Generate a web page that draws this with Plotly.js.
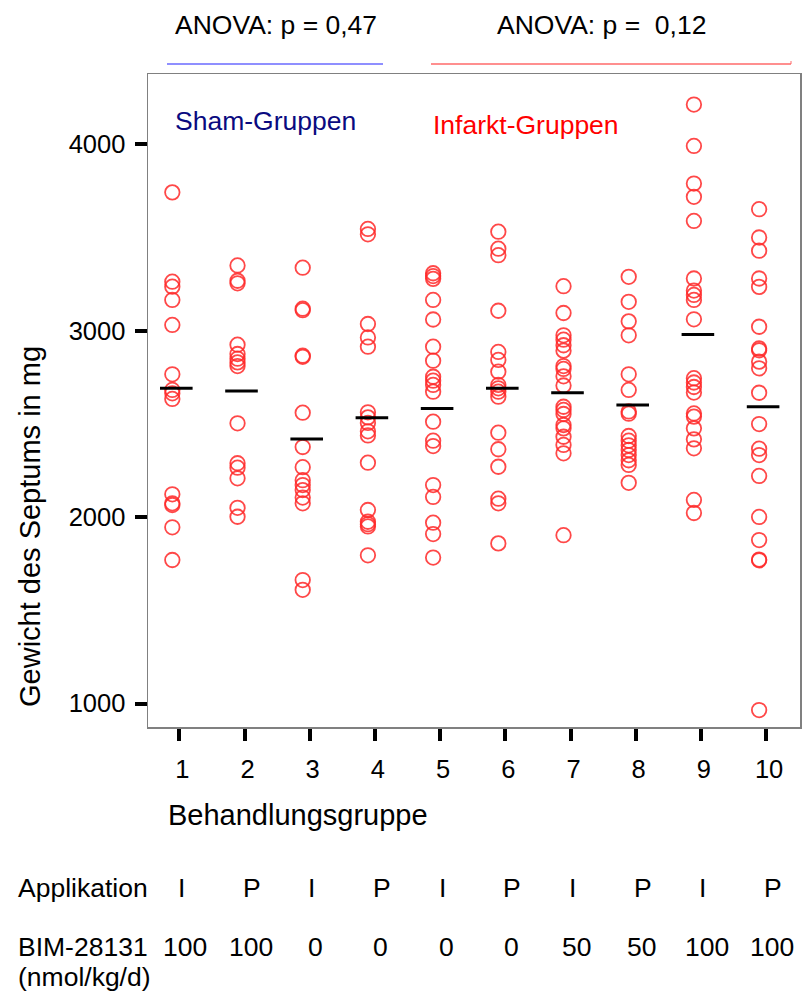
<!DOCTYPE html>
<html>
<head>
<meta charset="utf-8">
<script src="https://cdn.plot.ly/plotly-3.0.1.min.js"></script>
<style>
  html, body { margin: 0; padding: 0; background: #fff; }
  #chart { width: 802px; height: 992px; }
</style>
</head>
<body>
<div id="chart"></div>
<script>
// Treatment groups
const groups = [1, 2, 3, 4, 5, 6, 7, 8, 9, 10];

// Septum weight (mg) per animal
const g1 = [3742, 3263, 3236, 3165, 3031, 2766, 2682, 2664, 2634, 2122, 2074, 2065, 1945, 1770];
const g2 = [3350, 3268, 3254, 2925, 2875, 2850, 2830, 2810, 2503, 2289, 2265, 2208, 2050, 2002];
const g3 = [3338, 3118, 3110, 2866, 2860, 2560, 2376, 2268, 2198, 2172, 2145, 2105, 2074, 1662, 1610];
const g4 = [3546, 3517, 3036, 2964, 2914, 2562, 2535, 2505, 2460, 2438, 2292, 2038, 1975, 1962, 1950, 1795];
const g5 = [3308, 3293, 3278, 3165, 3060, 2914, 2839, 2753, 2732, 2709, 2673, 2512, 2410, 2381, 2172, 2108, 1970, 1909, 1783];
const g6 = [3531, 3440, 3405, 3107, 2886, 2843, 2780, 2709, 2691, 2673, 2646, 2453, 2364, 2270, 2099, 2074, 1859];
const g7 = [3239, 3095, 2975, 2952, 2922, 2893, 2810, 2795, 2755, 2706, 2592, 2575, 2553, 2494, 2476, 2431, 2387, 2342, 1903];
const g8 = [3289, 3155, 3050, 2975, 2766, 2682, 2567, 2555, 2435, 2410, 2385, 2360, 2333, 2305, 2280, 2184];
const g9 = [4213, 3991, 3789, 3718, 3589, 3280, 3215, 3192, 3165, 3061, 2745, 2722, 2698, 2668, 2556, 2539, 2476, 2417, 2369, 2092, 2022];
const g10 = [3652, 3500, 3429, 3280, 3235, 3021, 2905, 2895, 2834, 2798, 2667, 2499, 2367, 2333, 2221, 2001, 1877, 1772, 1768, 965];

// Group means (black bars)
const means = [2691, 2676, 2419, 2533, 2582, 2691, 2667, 2601, 2980, 2592];

// Axis ticks
const yTicks = [1000, 2000, 3000, 4000];

// Table rows under the chart
const applikation = ['I', 'P', 'I', 'P', 'I', 'P', 'I', 'P', 'I', 'P'];
const dose = ['100', '100', '0', '0', '0', '0', '50', '50', '100', '100'];

// Header texts
const anovaSham = 'ANOVA: p = 0,47';
const anovaInfarkt = 'ANOVA: p =\u00A0\u00A00,12';

const FONT = 'Liberation Sans, Arial, sans-serif';
const allGroups = [g1, g2, g3, g4, g5, g6, g7, g8, g9, g10];

// build point trace
const px = [], py = [];
allGroups.forEach((arr, i) => {
  arr.forEach(v => { px.push(groups[i] - 0.107); py.push(v); });
});

// build mean bars trace
const mx = [], my = [];
means.forEach((m, i) => {
  mx.push(groups[i] - 0.296, groups[i] + 0.204, null);
  my.push(m, m, null);
});

const traces = [
  {
    type: 'scatter', mode: 'markers', x: px, y: py,
    marker: { symbol: 'circle-open', size: 14.5, color: 'rgba(255,40,40,0.85)', line: { width: 1.8, color: 'rgba(255,40,40,0.85)' } },
    hoverinfo: 'y', showlegend: false
  },
  {
    type: 'scatter', mode: 'lines', x: mx, y: my,
    line: { color: '#000', width: 3 }, hoverinfo: 'skip', showlegend: false
  }
];

// paper y helper: plot spans pixel 74 (top) to 727 (bottom)
const PT = 74, PB = 727;
const py2paper = p => (PB - p) / (PB - PT);

const annotations = [
  { text: anovaSham, x: 276, y: py2paper(25) },
  { text: anovaInfarkt, x: 601, y: py2paper(25) }
].map(a => ({
  text: a.text, xref: 'paper', yref: 'paper',
  x: (a.x - 148) / 652, y: a.y, xanchor: 'center', yanchor: 'middle',
  showarrow: false, font: { family: FONT, size: 26.5, color: '#000' }
}));

annotations.push(
  { text: 'Sham-Gruppen', xref: 'paper', yref: 'paper', x: (173 - 148) / 652, y: py2paper(121),
    xanchor: 'left', yanchor: 'middle', showarrow: false, font: { family: FONT, size: 26.5, color: '#0a0a80' } },
  { text: 'Infarkt-Gruppen', xref: 'paper', yref: 'paper', x: (431 - 148) / 652, y: py2paper(125),
    xanchor: 'left', yanchor: 'middle', showarrow: false, font: { family: FONT, size: 26.5, color: '#ff0000' } },
  { text: 'Behandlungsgruppe', xref: 'paper', yref: 'paper', x: (166 - 148) / 652, y: py2paper(815),
    xanchor: 'left', yanchor: 'middle', showarrow: false, font: { family: FONT, size: 29, color: '#000' } },
  { text: 'Gewicht des Septums in mg', xref: 'paper', yref: 'paper', x: (30 - 148) / 652, y: py2paper(527),
    xanchor: 'center', yanchor: 'middle', textangle: -90, showarrow: false, font: { family: FONT, size: 29, color: '#000' } },
  { text: 'Applikation', xref: 'paper', yref: 'paper', x: (16 - 148) / 652, y: py2paper(888),
    xanchor: 'left', yanchor: 'middle', showarrow: false, font: { family: FONT, size: 26.5, color: '#000' } },
  { text: 'BIM-28131', xref: 'paper', yref: 'paper', x: (16 - 148) / 652, y: py2paper(947),
    xanchor: 'left', yanchor: 'middle', showarrow: false, font: { family: FONT, size: 26.5, color: '#000' } },
  { text: '(nmol/kg/d)', xref: 'paper', yref: 'paper', x: (16 - 148) / 652, y: py2paper(977),
    xanchor: 'left', yanchor: 'middle', showarrow: false, font: { family: FONT, size: 26.5, color: '#000' } }
);

groups.forEach((g, i) => {
  annotations.push({
    text: applikation[i], xref: 'x', yref: 'paper', x: g, y: py2paper(888),
    xshift: applikation[i] === 'P' ? 7 : 2,
    xanchor: 'center', yanchor: 'middle', showarrow: false, font: { family: FONT, size: 26.5, color: '#000' }
  });
  annotations.push({
    text: dose[i], xref: 'x', yref: 'paper', x: g, y: py2paper(947), xshift: 6,
    xanchor: 'center', yanchor: 'middle', showarrow: false, font: { family: FONT, size: 26.5, color: '#000' }
  });
});

const shapes = [
  { type: 'line', xref: 'paper', yref: 'paper', x0: (167 - 148) / 652, x1: (383 - 148) / 652,
    y0: py2paper(64), y1: py2paper(64), line: { color: '#6a6aff', width: 1.3 } },
  { type: 'line', xref: 'paper', yref: 'paper', x0: (431 - 148) / 652, x1: (791 - 148) / 652,
    y0: py2paper(64), y1: py2paper(64), line: { color: '#ff6a6a', width: 1.3 } },
  { type: 'line', xref: 'paper', yref: 'paper', x0: (791 - 148) / 652, x1: (791 - 148) / 652,
    y0: py2paper(64), y1: py2paper(61), line: { color: '#ff6a6a', width: 1 } }
];

const layout = {
  width: 802, height: 992,
  margin: { l: 148, r: 2, t: 74, b: 265 },
  paper_bgcolor: '#fff', plot_bgcolor: '#fff',
  font: { family: FONT, color: '#000' },
  xaxis: {
    range: [0.52, 10.52], tickvals: groups, ticktext: groups.map(String),
    ticks: 'outside', ticklen: 12, tickwidth: 4, tickcolor: '#000',
    showgrid: false, zeroline: false,
    showline: true, mirror: true, linecolor: '#808080', linewidth: 1.5,
    tickfont: { family: FONT, size: 25.5, color: '#000' }, ticklabelshift: 3, ticklabelstandoff: 7
  },
  yaxis: {
    range: [874, 4377], tickvals: yTicks, ticktext: yTicks.map(String),
    ticks: 'outside', ticklen: 12, tickwidth: 4, tickcolor: '#000',
    showgrid: false, zeroline: false,
    showline: true, mirror: true, linecolor: '#808080', linewidth: 1.5,
    tickfont: { family: FONT, size: 25.5, color: '#000' }, ticklabelstandoff: 4
  },
  annotations: annotations,
  shapes: shapes,
  showlegend: false
};

Plotly.newPlot('chart', traces, layout, { displayModeBar: false, staticPlot: true });
</script>
</body>
</html>
